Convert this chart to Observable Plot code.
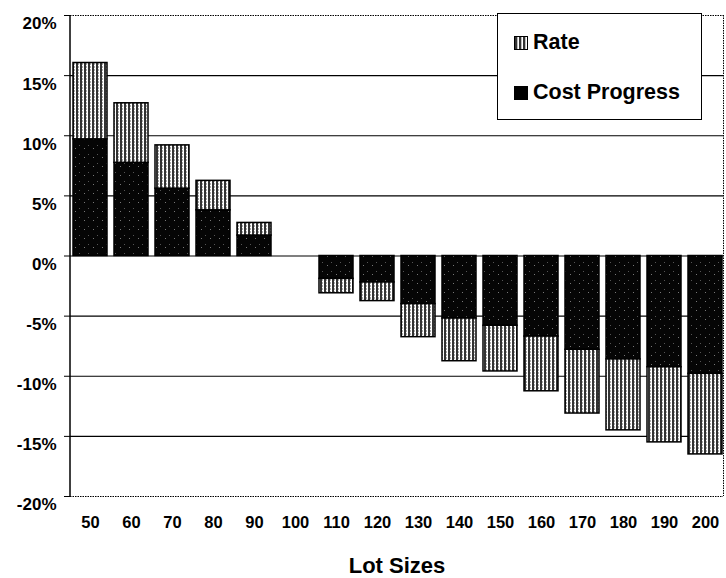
<!DOCTYPE html>
<html>
<head>
<meta charset="utf-8">
<script src="https://cdn.jsdelivr.net/npm/d3@7"></script>
<script src="https://cdn.jsdelivr.net/npm/@observablehq/plot@0.6"></script>
<style>
  html, body { margin: 0; padding: 0; background: #fff; }
  #wrap { position: relative; width: 726px; height: 578px; font-family: "Liberation Sans", Arial, sans-serif; }
  #legend { position: absolute; left: 497px; top: 13px; width: 205px; height: 107px; border: 1.5px solid #000; background: #fff; box-sizing: border-box; }
  .item { position: absolute; left: 16px; font-weight: bold; font-size: 21.5px; color: #000; display: flex; align-items: center; line-height: 1; }
  .sw { width: 14px; height: 14px; border: 1px solid #000; margin-right: 5px; box-sizing: border-box; }
</style>
</head>
<body>
<div id="wrap"></div>
<script>
const lots = ["50","60","70","80","90","100","110","120","130","140","150","160","170","180","190","200"];
const costProgress = [9.7, 7.75, 5.6, 3.8, 1.7, 0, -1.9, -2.2, -4.0, -5.2, -5.8, -6.7, -7.8, -8.6, -9.25, -9.8];
const rate = [6.35, 4.95, 3.6, 2.45, 1.05, 0, -1.2, -1.55, -2.75, -3.55, -3.8, -4.55, -5.3, -5.9, -6.25, -6.7];
const seriesNames = ["Cost Progress", "Rate"];
const yTicks = [-20, -15, -10, -5, 0, 5, 10, 15, 20];
const gridTicks = [-15, -10, -5, 0, 5, 10, 15];

const rows = [];
lots.forEach((lot, i) => {
  rows.push({lot, series: seriesNames[0], value: costProgress[i]});
  rows.push({lot, series: seriesNames[1], value: rate[i]});
});

const fills = {"Cost Progress": "url(#costPat)", "Rate": "url(#ratePat)"};

const chart = Plot.plot({
  width: 726,
  height: 578,
  marginLeft: 70,
  marginRight: 3,
  marginTop: 15,
  marginBottom: 82,
  style: {fontFamily: "'Liberation Sans', Arial, sans-serif", background: "#fff", color: "#000"},
  x: {domain: lots, range: [72, 723], paddingInner: 0.17, paddingOuter: 0},
  y: {domain: [-20, 20]},
  marks: [
    Plot.ruleY(gridTicks, {stroke: "#000", strokeWidth: 1.2}),
    Plot.barY(rows.filter(d => d.value !== 0), Plot.stackY({
      x: "lot", y: "value", z: "series", order: seriesNames,
      fill: d => fills[d.series], stroke: "#000", strokeWidth: 1.5
    })),
    Plot.ruleY([20, -20], {stroke: "#000", strokeWidth: 1, strokeDasharray: "1.5,1"}),
    Plot.axisY({ticks: yTicks, tickFormat: d => d + "%", tickSize: 6, tickPadding: 8, fontSize: 17, fontWeight: "bold", label: null}),
    Plot.axisX({tickSize: 0, tickPadding: 20, fontSize: 16.5, fontWeight: "bold", label: "Lot Sizes", labelAnchor: "center", labelOffset: 76})
  ]
});

// patterns
const ns = "http://www.w3.org/2000/svg";
const defs = document.createElementNS(ns, "defs");
defs.innerHTML = `
  <pattern id="ratePat" patternUnits="userSpaceOnUse" width="4" height="3">
    <rect width="4" height="3" fill="#fff"/>
    <rect x="0" width="2" height="3" fill="#333"/>
    <rect x="2" y="0" width="1" height="2" fill="#aaa"/>
  </pattern>
  <pattern id="costPat" patternUnits="userSpaceOnUse" width="9" height="9">
    <rect width="9" height="9" fill="#050505"/>
    <rect x="3" y="4" width="1" height="1" fill="#777"/>
    <rect x="7" y="1" width="1" height="1" fill="#555"/>
  </pattern>`;
chart.insertBefore(defs, chart.firstChild);

const svg = d3.select(chart);
// nudge y tick labels slightly below their lines, as in the reference
svg.selectAll("[aria-label='y-axis tick label'] text").attr("dy", "0.5em");
svg.append("line").attr("x1", 70).attr("x2", 70).attr("y1", 15).attr("y2", 496).attr("stroke", "#000").attr("stroke-width", 1.5);
svg.append("line").attr("x1", 723.5).attr("x2", 723.5).attr("y1", 15).attr("y2", 496).attr("stroke", "#000").attr("stroke-width", 1).attr("stroke-dasharray", "1.5,1");
svg.selectAll("[aria-label='x-axis label'] text, [aria-label='x-axis label']").attr("font-size", 22).attr("font-weight", "bold");

const wrap = document.getElementById("wrap");
wrap.appendChild(chart);

const legend = document.createElement("div");
legend.id = "legend";
legend.innerHTML = `
  <div class="item" style="top:18px"><span class="sw" style="background: repeating-linear-gradient(90deg,#333 0 2px,#bbb 2px 3px,#fff 3px 4px)"></span>Rate</div>
  <div class="item" style="top:68px"><span class="sw" style="background:#000"></span>Cost Progress</div>`;
wrap.appendChild(legend);
</script>
</body>
</html>
